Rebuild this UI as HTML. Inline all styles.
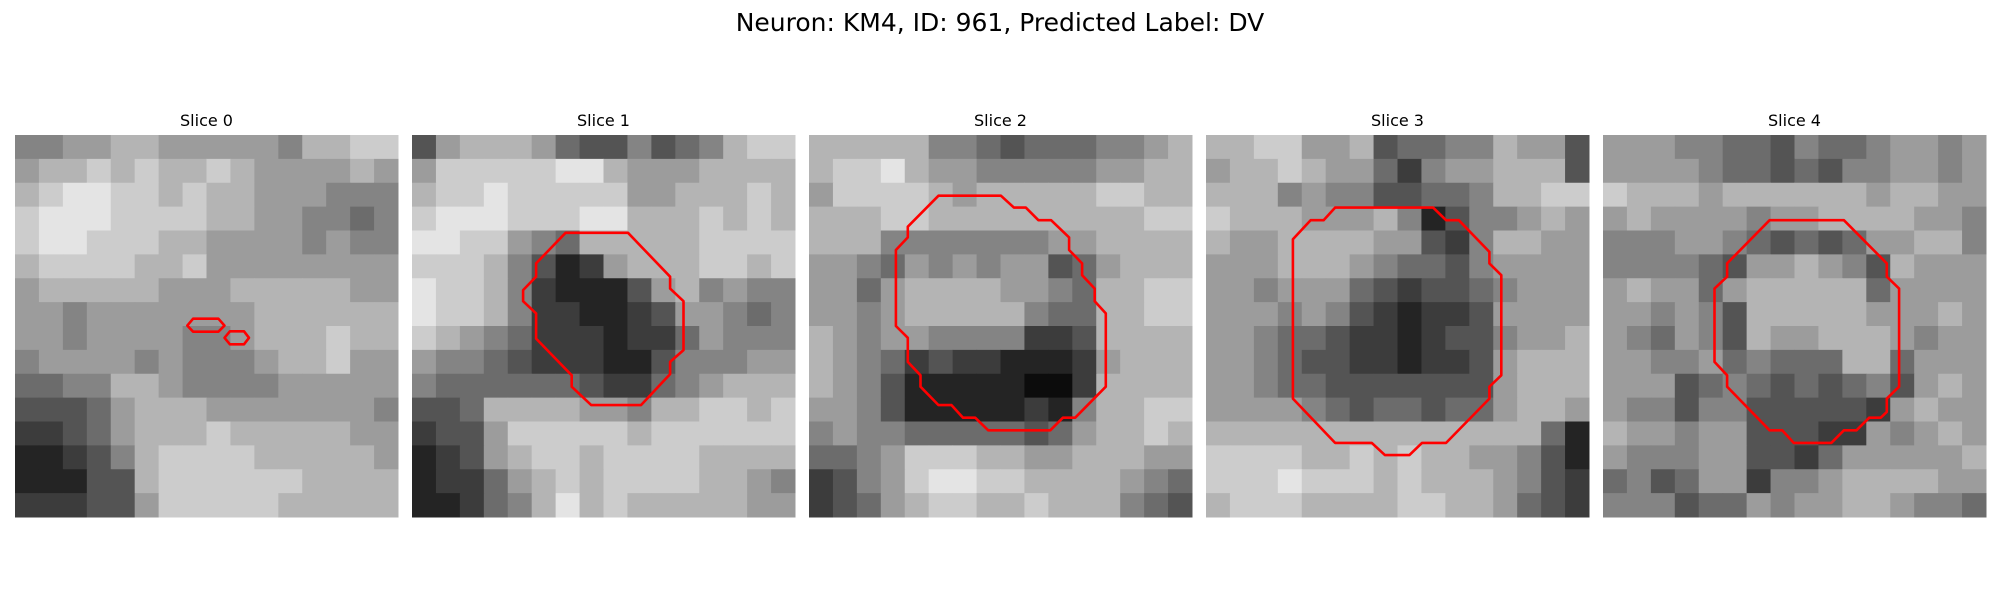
<!DOCTYPE html>
<html><head><meta charset="utf-8"><style>
html,body{margin:0;padding:0;background:#fff;}
svg{display:block;}
</style></head><body>
<svg id="fig" width="2000" height="600" xmlns="http://www.w3.org/2000/svg">
<text x="1000" y="31" text-anchor="middle" font-family="DejaVu Sans, Liberation Sans, sans-serif" font-size="25">Neuron: KM4, ID: 961, Predicted Label: DV</text>
</svg>
<script>
const sliceTitles = ["Slice 0","Slice 1","Slice 2","Slice 3","Slice 4"];
const slice0 = ["5566776666657788","6778787787666676","7899887877666555","8999888877665545","8998887766665655","7888877866666666","6777776667777766","6656666666777777","6656666556777877","5666656555677866","4455776555566666","3334677766666665","2234677787777766","1123578888777776","1113378888887777","2223368888877777"];
const slice1 = ["3677764335345788","6888889976667777","7889888886677787","8999888997778787","9988654777778888","8887531267778878","9887521113675655","9887522112366545","8765422212246555","6554322211355566","5444444322456777","3347777665778878","2336888887888888","1236788788887777","1224678788887765","1124579787777766"];
const slice2 = ["7777755434445567","7889766555556677","6888876777778877","7778877777777788","7775555555667777","6654656566346777","6646777766547788","6656777775447788","7656655552237777","7654232211126777","7653111110027777","6653111112157788","5655444443467787","4456888776677766","2356899887777654","2346788778777543"];
const slice3 = ["7788667344557663","6778766425667773","7775655334457788","8777666751355676","7667777663257766","6667776544356666","6656664323345666","6665653212236666","6654432212335667","6654332212236777","6654433333336777","6666543443446776","7777777777777741","8888778787766531","8889888787776532","7888777788776432"];
const slice4 = ["6665544354456656","6666544343556656","8777677777767766","6766665667777665","5556654343466775","5555436676537666","6766467777746666","6656537777766676","6546537667776566","6655645444774666","6663454343453676","6553553333326766","7665663332265676","6555663324666667","4534662556777766","5553446566776554"];
const contour0a = [[0.465,0.481],[0.531,0.481],[0.547,0.499],[0.531,0.515],[0.465,0.515],[0.450,0.499]];
const contour0b = [[0.561,0.514],[0.598,0.514],[0.611,0.531],[0.598,0.548],[0.561,0.548],[0.547,0.531]];
const contour1 = [[0.401,0.256],[0.564,0.256],[0.674,0.371],[0.674,0.402],[0.709,0.435],[0.709,0.563],[0.674,0.594],[0.674,0.626],[0.598,0.707],[0.468,0.707],[0.417,0.659],[0.417,0.629],[0.324,0.533],[0.324,0.467],[0.290,0.435],[0.290,0.406],[0.324,0.371],[0.324,0.336]];
const contour2 = [[0.338,0.159],[0.501,0.159],[0.535,0.190],[0.566,0.190],[0.599,0.223],[0.632,0.223],[0.679,0.268],[0.679,0.301],[0.713,0.336],[0.713,0.367],[0.746,0.402],[0.746,0.435],[0.775,0.467],[0.775,0.659],[0.695,0.740],[0.663,0.740],[0.630,0.773],[0.468,0.773],[0.434,0.740],[0.402,0.740],[0.372,0.707],[0.338,0.707],[0.291,0.659],[0.291,0.629],[0.258,0.594],[0.258,0.531],[0.227,0.500],[0.227,0.301],[0.258,0.268],[0.258,0.240]];
const contour3 = [[0.337,0.190],[0.593,0.190],[0.627,0.223],[0.660,0.223],[0.740,0.306],[0.740,0.336],[0.771,0.367],[0.771,0.629],[0.740,0.659],[0.740,0.690],[0.627,0.806],[0.564,0.806],[0.531,0.838],[0.467,0.838],[0.433,0.806],[0.337,0.806],[0.227,0.690],[0.227,0.273],[0.273,0.223],[0.307,0.223]];
const contour4 = [[0.435,0.223],[0.629,0.223],[0.741,0.336],[0.741,0.371],[0.773,0.402],[0.773,0.659],[0.741,0.690],[0.741,0.725],[0.725,0.740],[0.695,0.740],[0.662,0.773],[0.629,0.773],[0.596,0.806],[0.498,0.806],[0.468,0.773],[0.435,0.773],[0.324,0.659],[0.324,0.629],[0.291,0.594],[0.291,0.402],[0.324,0.371],[0.324,0.336]];

const slices = [slice0,slice1,slice2,slice3,slice4];
const contours = [[contour0a,contour0b],[contour1],[contour2],[contour3],[contour4]];
const NS = "http://www.w3.org/2000/svg";
const svg = document.getElementById('fig');
const P0 = 15, PW = 383, GAP = 14, PT = 135, PH = 382;
function px(i, f){ return P0 + i*(PW+GAP) + f*PW; }
function py(f){ return PT + f*PH; }
function gray(v){ const g = Math.min(250, Math.round(12 + v*24)); return `rgb(${g},${g},${g})`; }
slices.forEach((rows, i) => {
  const g = document.createElementNS(NS,'g');
  
  
  svg.appendChild(g);
  const n = rows.length;
  rows.forEach((row, r) => {
    const m = row.length;
    for (let c = 0; c < m; c++) {
      const v = +row[c];
      const rect = document.createElementNS(NS,'rect');
      
      
      const x0 = px(i, c/m), x1 = px(i, (c+1)/m);
      const y0 = py(r/n), y1 = py((r+1)/n);
      rect.setAttribute('x', x0); rect.setAttribute('y', y0);
      rect.setAttribute('width', x1-x0+0.5); rect.setAttribute('height', y1-y0+0.5);
      rect.setAttribute('fill', gray(v));
      g.appendChild(rect);
    }
  });
  contours[i].forEach((pts) => {
    const poly = document.createElementNS(NS,'polygon');
    
    
    poly.setAttribute('points', pts.map(p => px(i,p[0]).toFixed(1)+','+py(p[1]).toFixed(1)).join(' '));
    poly.setAttribute('fill', 'none');
    poly.setAttribute('stroke', '#ff0000');
    poly.setAttribute('stroke-width', '2.6');
    poly.setAttribute('stroke-linejoin', 'round');
    g.appendChild(poly);
  });
  const t = document.createElementNS(NS,'text');
  
  
  t.setAttribute('x', px(i, 0.5));
  t.setAttribute('y', 126);
  t.setAttribute('text-anchor', 'middle');
  t.setAttribute('font-family', 'DejaVu Sans, Liberation Sans, sans-serif');
  t.setAttribute('font-size', '16');
  t.textContent = sliceTitles[i];
  svg.appendChild(t);
});
</script>
</body></html>
